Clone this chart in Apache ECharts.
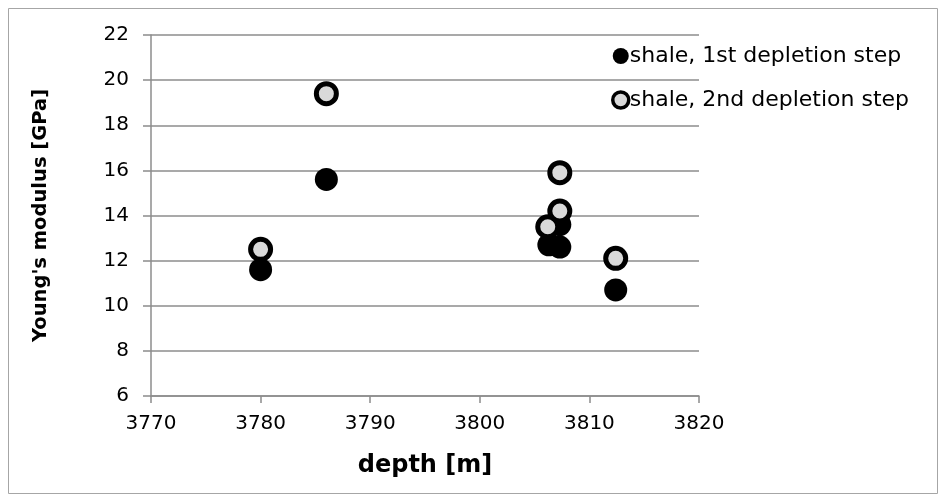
<!DOCTYPE html>
<html><head><meta charset="utf-8">
<script src="https://cdn.jsdelivr.net/npm/echarts@6/dist/echarts.min.js"></script>
<style>html,body{margin:0;padding:0;background:#fff}#c{width:946px;height:502px}</style>
</head><body><div id="c"></div>
<script>
const depth1 = [3780, 3786, 3806.3, 3807.3, 3807.3, 3812.4];
const modulus1 = [11.6, 15.6, 12.7, 13.6, 12.6, 10.7];
const depth2 = [3780, 3786, 3806.2, 3807.3, 3807.3, 3812.4];
const modulus2 = [12.5, 19.4, 13.5, 14.2, 15.9, 12.1];
const seriesNames = ['shale, 1st depletion step', 'shale, 2nd depletion step'];
const xTitle = 'depth [m]';
const yTitle = "Young's modulus [GPa]";

const font = "'DejaVu Sans', sans-serif";
const chart = echarts.init(document.getElementById('c'));
chart.setOption({
  animation: false,
  backgroundColor: '#fff',
  graphic: [{type:'rect', shape:{x:8.5,y:8.5,width:929,height:485}, style:{fill:'none', stroke:'#a6a6a6', lineWidth:1}}],
  grid: {left:151, right:247, top:35, bottom:106},
  legend: {
    orient:'vertical', left:606, top:40, itemGap:22, itemWidth:16, itemHeight:16,
    icon:'circle',
    textStyle:{fontFamily:font, fontSize:22, color:'#000', padding:[0,0,0,-4]},
    data: [
      {name: seriesNames[0]},
      {name: seriesNames[1], itemStyle:{color:'#d9d9d9', borderColor:'#000', borderWidth:3.5}}
    ]
  },
  xAxis: {
    type:'value', min:3770, max:3820, interval:10,
    name:xTitle, nameLocation:'middle', nameGap:58,
    nameTextStyle:{fontFamily:font, fontWeight:'bold', fontSize:24, color:'#000'},
    axisLine:{show:true, lineStyle:{color:'#8c8c8c', width:1.5}},
    axisTick:{show:true, length:7, lineStyle:{color:'#8c8c8c', width:1.5}},
    axisLabel:{fontFamily:font, fontSize:20, color:'#000', margin:18, formatter:(v)=>String(v)},
    splitLine:{show:false}
  },
  yAxis: {
    type:'value', min:6, max:22, interval:2,
    name:yTitle, nameLocation:'middle', nameGap:100,
    nameTextStyle:{fontFamily:font, fontWeight:'bold', fontSize:19.5, color:'#000'},
    axisLine:{show:true, lineStyle:{color:'#8c8c8c', width:1.5}},
    axisTick:{show:true, length:8, lineStyle:{color:'#8c8c8c', width:1.5}},
    axisLabel:{fontFamily:font, fontSize:20, color:'#000', margin:22},
    splitLine:{show:true, lineStyle:{color:'#8c8c8c', width:1.5}}
  },
  series: [
    {name:seriesNames[0], type:'scatter', symbol:'circle', symbolSize:23,
     itemStyle:{color:'#000', opacity:1},
     data: depth1.map((d,i)=>[d, modulus1[i]])},
    {name:seriesNames[1], type:'scatter', symbol:'circle', symbolSize:20,
     itemStyle:{color:'#d9d9d9', borderColor:'#000', borderWidth:5, opacity:1},
     data: depth2.map((d,i)=>[d, modulus2[i]])}
  ]
});
</script></body></html>
